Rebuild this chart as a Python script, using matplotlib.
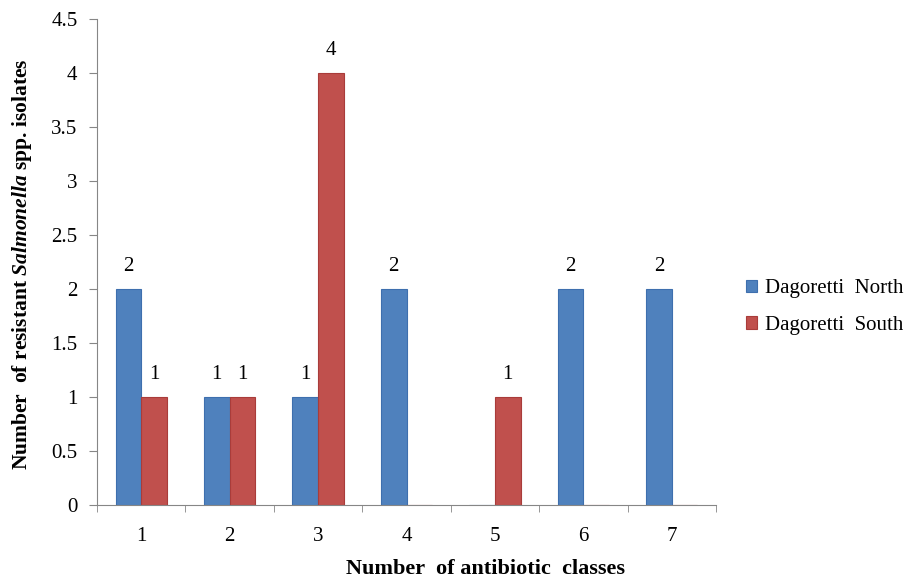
import numpy as np
import matplotlib.pyplot as plt

plt.rcParams['font.family'] = 'Liberation Serif'
plt.rcParams['mathtext.fontset'] = 'custom'
plt.rcParams['mathtext.it'] = 'Liberation Serif:italic:bold'
plt.rcParams['mathtext.rm'] = 'Liberation Serif:bold'

categories = ['1', '2', '3', '4', '5', '6', '7']
north = [2, 1, 1, 2, 0, 2, 2]
south = [1, 1, 4, 0, 1, 0, 0]

fig = plt.figure(figsize=(9.09, 5.81), dpi=100)
ax = fig.add_axes([0.1067, 0.1308, 0.681, 0.8362])

x = np.arange(len(categories))
w = 0.29
b1 = ax.bar(x - w / 2, north, w, color='#4F81BD', edgecolor='#3E6FAE', linewidth=0.8,
            label='Dagoretti  North')
b2 = ax.bar(x + w / 2, south, w, color='#C0504D', edgecolor='#A93C3A', linewidth=0.8,
            label='Dagoretti  South')

for bars, vals in ((b1, north), (b2, south)):
    for r, v in zip(bars, vals):
        if v > 0:
            ax.text(r.get_x() + r.get_width() / 2, v + 0.12, str(v),
                    ha='center', va='bottom', fontsize=15)

ax.set_xlim(-0.5, len(categories) - 0.5)
ax.set_ylim(0, 4.5)
ax.set_yticks(np.arange(0, 4.51, 0.5))
ax.set_yticklabels(['0', '0.5', '1', '1.5', '2', '2.5', '3', '3.5', '4', '4.5'])
ax.set_xticks(x)
ax.set_xticklabels(categories)
ax.set_xticks(np.arange(-0.5, len(categories), 1), minor=True)
ax.tick_params(axis='x', which='major', length=0, labelsize=15, pad=16)
ax.tick_params(axis='x', which='minor', length=5, direction='out', color='#868686')
ax.tick_params(axis='y', length=6, direction='out', color='#868686', labelsize=15, pad=8)

for s in ('top', 'right'):
    ax.spines[s].set_visible(False)
for s in ('left', 'bottom'):
    ax.spines[s].set_color('#868686')

fig.text(0.534, 0.021, 'Number  of antibiotic  classes', ha='center', va='center',
         fontsize=16, fontweight='bold')
fig.text(0.024, 0.545, r'Number  of resistant $\mathit{Salmonella}$ spp. isolates',
         rotation=90, ha='center', va='center', fontsize=15.5, fontweight='bold')

ax.legend(loc='center left', bbox_to_anchor=(1.035, 0.407), frameon=False, fontsize=15,
          handlelength=0.55, handleheight=0.55, handletextpad=0.35, labelspacing=0.85,
          borderaxespad=0)

fig.savefig('out.png', dpi=100)
